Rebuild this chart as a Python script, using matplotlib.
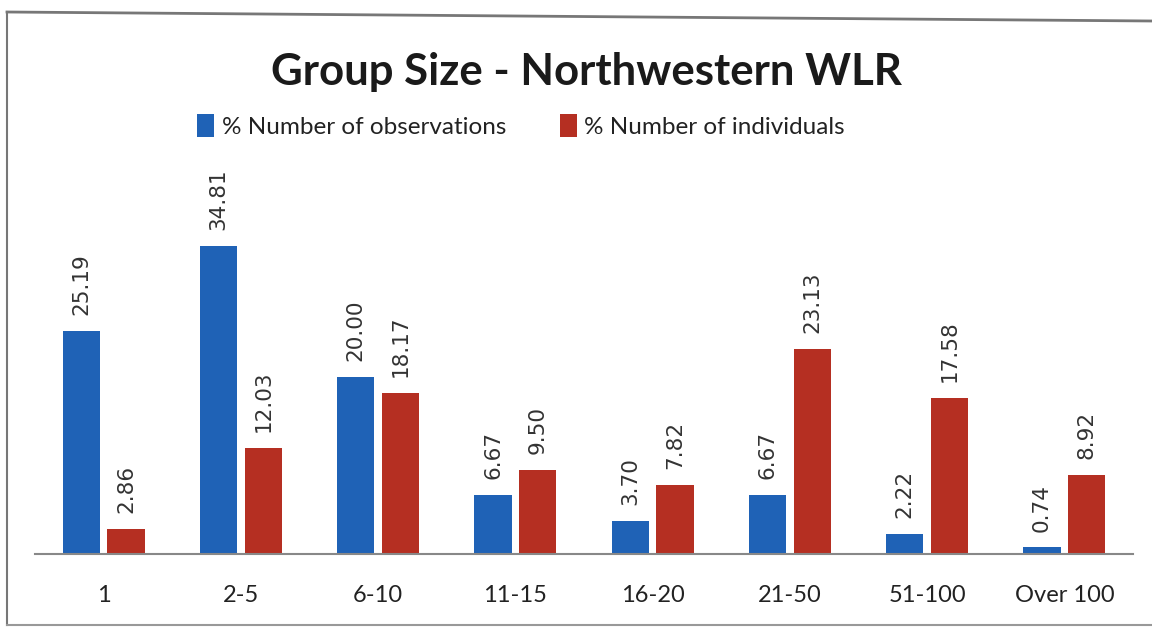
import matplotlib
matplotlib.use("Agg")
import matplotlib.pyplot as plt
from matplotlib.lines import Line2D
import numpy as np

categories = ["1", "2-5", "6-10", "11-15", "16-20", "21-50", "51-100", "Over 100"]
obs = [25.19, 34.81, 20.00, 6.67, 3.70, 6.67, 2.22, 0.74]
ind = [2.86, 12.03, 18.17, 9.50, 7.82, 23.13, 17.58, 8.92]
series_names = ["% Number of observations", "% Number of individuals"]
title = "Group Size - Northwestern WLR"

blue = "#1F62B6"
red = "#B52F22"
main_font = "Lato"

W, H = 1152, 630
fig = plt.figure(figsize=(W / 100, H / 100), dpi=100)
fig.patch.set_facecolor("white")

# scanned page frame
fig.add_artist(Line2D([7 / W, 7 / W], [1 - 12 / H, 1 - 625 / H], color="#777777", lw=1.5))
fig.add_artist(Line2D([7 / W, 1.0], [1 - 12 / H, 1 - 21 / H], color="#777777", lw=2))
fig.add_artist(Line2D([7 / W, 1.0], [1 - 625 / H, 1 - 625 / H], color="#999999", lw=1.5))

ax = fig.add_axes([35 / W, 76 / H, (1133 - 35) / W, 354 / H])
x = np.arange(len(categories))
w = 0.27
off = 0.163
b1 = ax.bar(x - off, obs, w, color=blue, label=series_names[0])
b2 = ax.bar(x + off, ind, w, color=red, label=series_names[1])

for bars, vals in ((b1, obs), (b2, ind)):
    for r, v in zip(bars, vals):
        ax.text(r.get_x() + r.get_width() / 2, v + 1.8, f"{v:.2f}", rotation=90,
                ha="center", va="bottom", fontsize=15.5, family="DejaVu Sans",
                fontweight="normal", color="#333333")

ax.set_xlim(-0.5, len(categories) - 0.5)
ax.set_ylim(0, 40)
ax.set_xticks(x)
ax.set_xticklabels(categories, fontsize=17, family=main_font, color="#222222")
ax.tick_params(axis="x", length=0, pad=22)
ax.set_yticks([])
for s in ("top", "right", "left"):
    ax.spines[s].set_visible(False)
ax.spines["bottom"].set_color("#888888")
ax.spines["bottom"].set_linewidth(1.5)
ax.set_facecolor("none")

fig.text(586 / W, 1 - 72 / H, title, ha="center", va="center", fontsize=31.5,
         fontweight="bold", family=main_font, color="#1a1a1a")

leg = fig.legend(handles=[b1, b2], labels=series_names, loc="center",
                 bbox_to_anchor=(521 / W, 1 - 126 / H), ncol=2, frameon=False,
                 prop={"family": main_font, "size": 17.5}, handlelength=0.7,
                 handleheight=1.1, handletextpad=0.3, columnspacing=2.2)
for t in leg.get_texts():
    t.set_color("#222222")

fig.savefig("out.png", dpi=100, facecolor="white")
